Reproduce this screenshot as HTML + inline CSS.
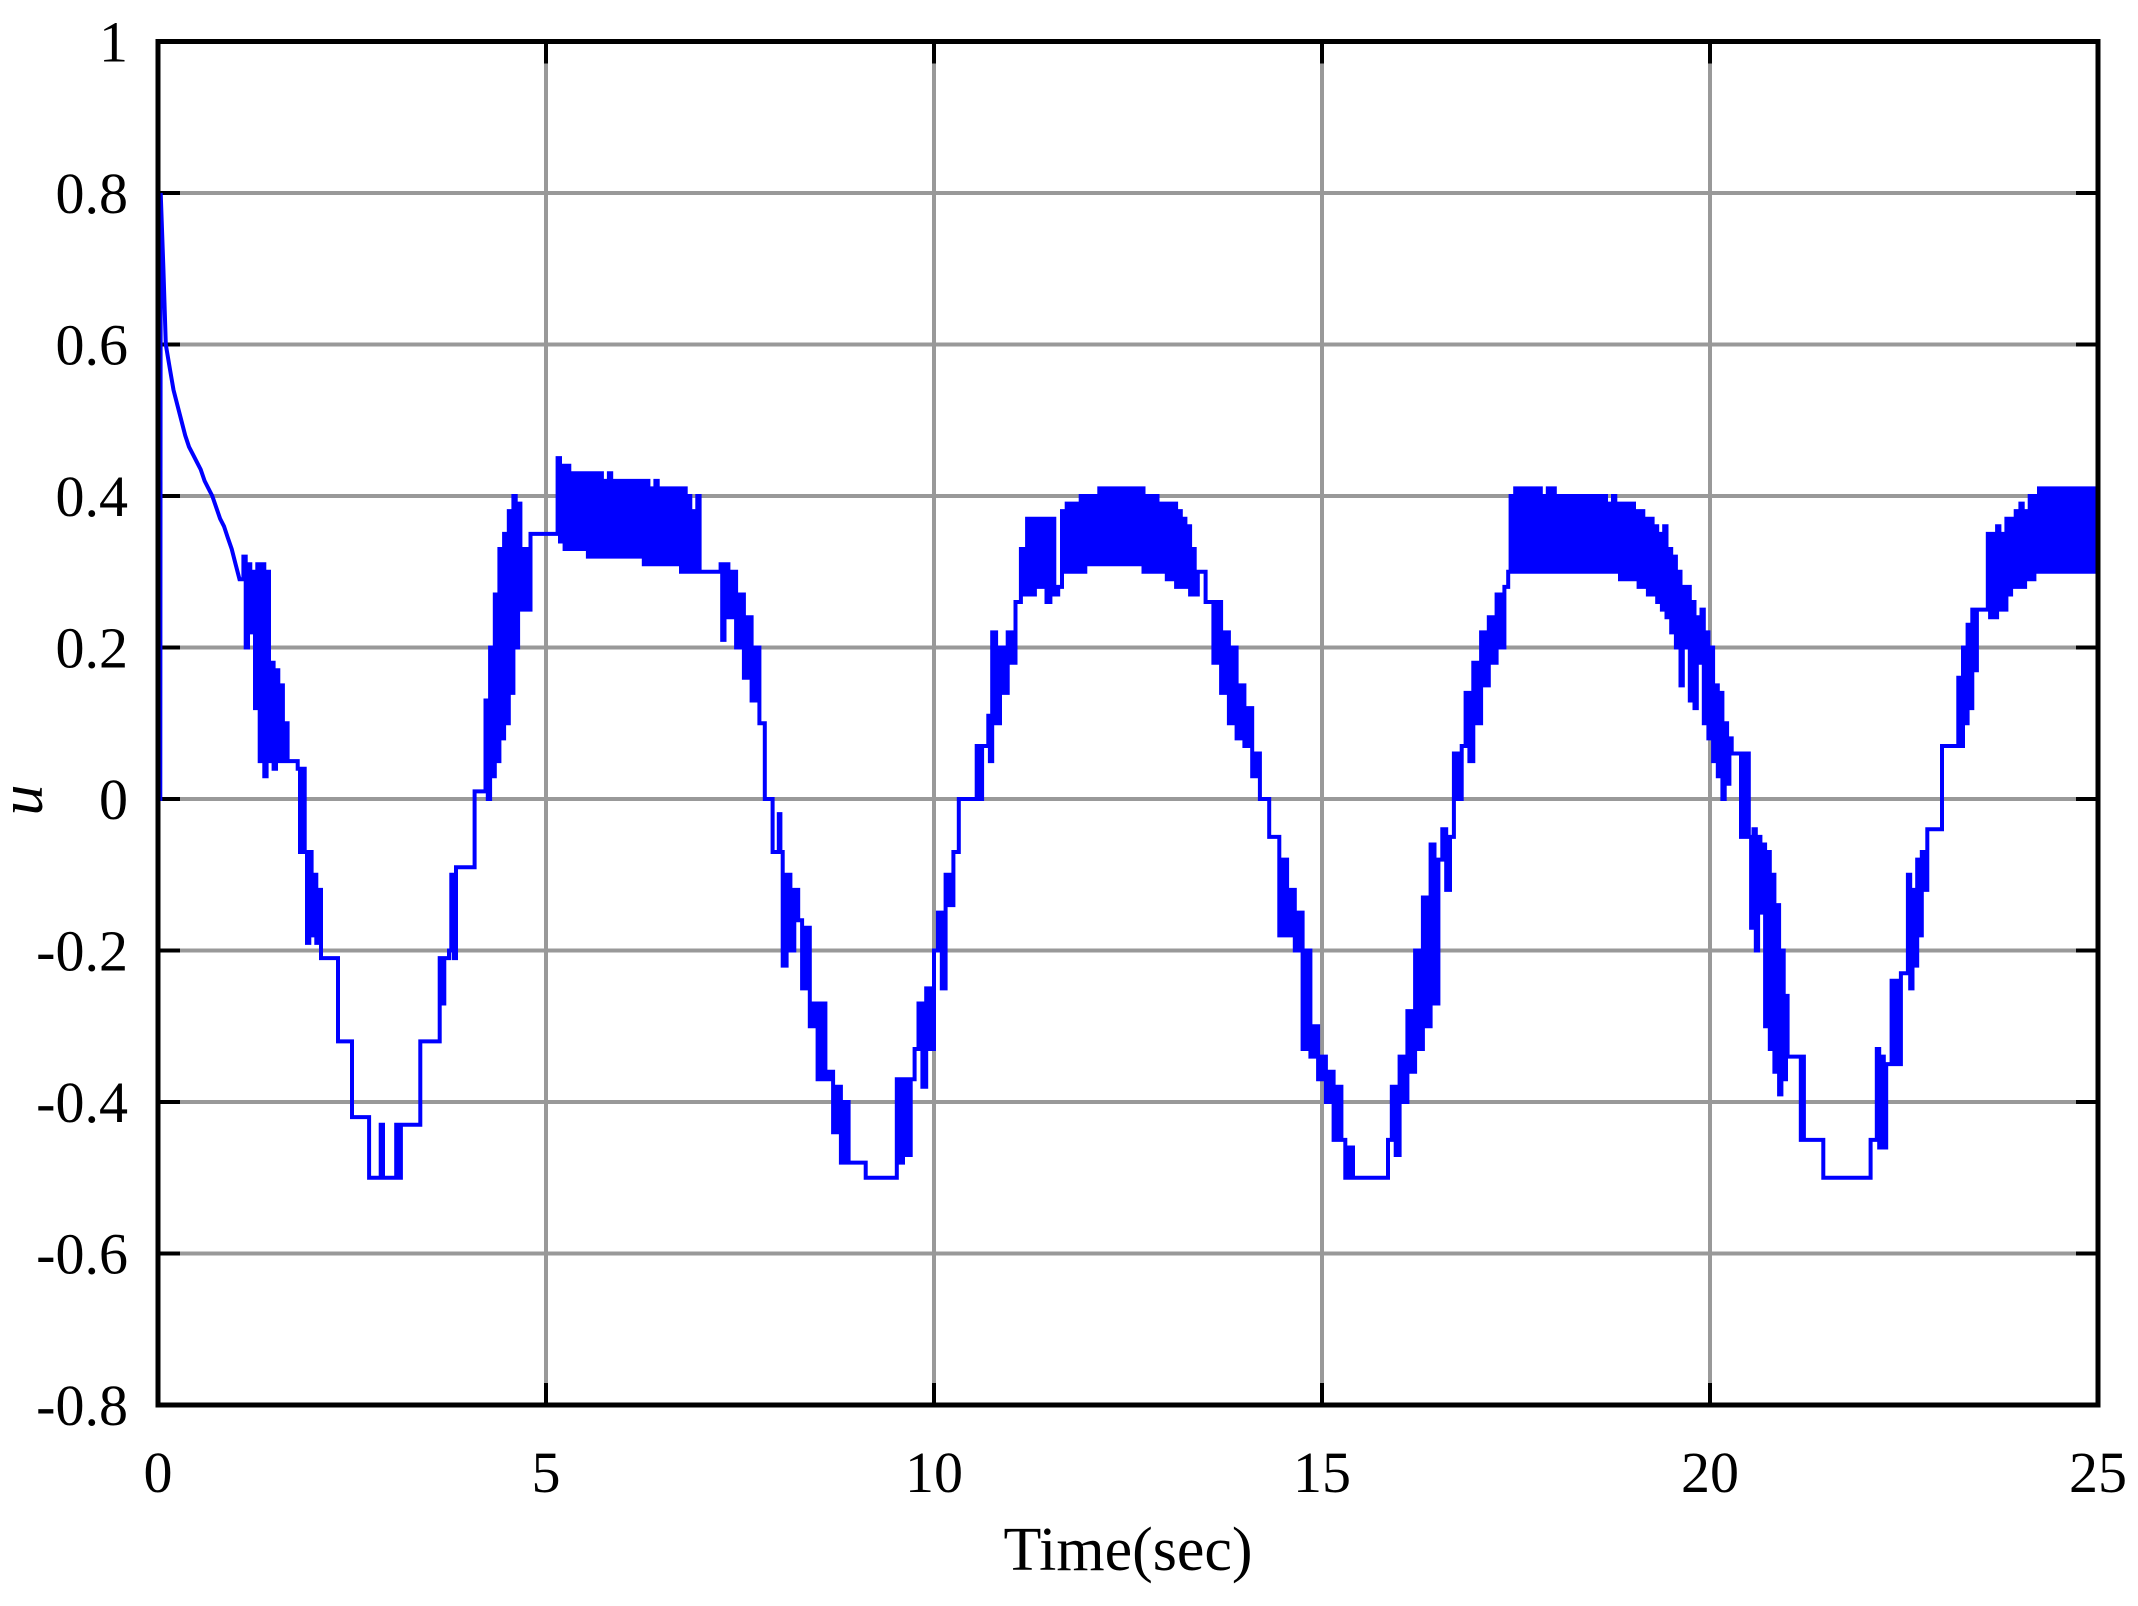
<!DOCTYPE html>
<html><head><meta charset="utf-8"><style>
html,body{margin:0;padding:0;background:#fff;}
svg{display:block;}
text{font-family:"Liberation Serif",serif;fill:#000;}
</style></head><body>
<svg id="chart" width="2138" height="1606" viewBox="0 0 2138 1606" xmlns="http://www.w3.org/2000/svg">
<g id="grid"></g>
<g id="series"></g>
<rect x="158" y="41.5" width="1940" height="1363.5" fill="none" stroke="#000" stroke-width="5"/>
<g id="xticks"></g>
<g id="yticks"></g>
<text x="1128" y="1570" font-size="62" text-anchor="middle">Time(sec)</text>
<text x="0" y="0" font-size="62" font-style="italic" text-anchor="middle" transform="translate(42,800) rotate(-90)">u</text>
</svg>
<script>
const xTickLabels=["0","5","10","15","20","25"];
const xTickValues=[0,5,10,15,20,25];
const yTickLabels=["1","0.8","0.6","0.4","0.2","0","-0.2","-0.4","-0.6","-0.8"];
const yTickValues=[1,0.8,0.6,0.4,0.2,0,-0.2,-0.4,-0.6,-0.8];
const samples=[
[0,0],[0.03,0],[0.035,0.8],[0.07,0.7],[0.1,0.6],[0.15,0.57],[0.2,0.54],[0.25,0.52],[0.3,0.5],[0.35,0.48],[0.4,0.465],[0.45,0.455],[0.5,0.445],[0.55,0.435],[0.6,0.42],[0.65,0.41],[0.7,0.4],[0.75,0.385],[0.8,0.37],[0.85,0.36],[0.9,0.345],[0.95,0.33],[1.0,0.31],[1.05,0.29],
[1.1,0.32],[1.13,0.2],[1.16,0.31],[1.19,0.22],[1.22,0.3],[1.25,0.12],[1.28,0.31],[1.31,0.05],[1.34,0.31],[1.37,0.03],[1.4,0.3],[1.43,0.05],[1.46,0.18],[1.49,0.04],[1.52,0.17],[1.55,0.05],[1.58,0.15],[1.61,0.05],[1.64,0.1],[1.67,0.05],[1.8,0.04],[1.83,-0.07],[1.86,0.04],[1.89,-0.07],[1.92,-0.19],[1.95,-0.07],[1.98,-0.18],[2.01,-0.1],[2.04,-0.19],[2.07,-0.12],[2.1,-0.21],[2.3,-0.21],[2.32,-0.32],[2.45,-0.32],[2.5,-0.42],[2.7,-0.42],[2.72,-0.5],[2.85,-0.5],[2.87,-0.43],[2.9,-0.5],[3.05,-0.5],[3.07,-0.43],[3.1,-0.5],[3.13,-0.43],[3.35,-0.43],[3.38,-0.32],[3.6,-0.32],[3.63,-0.21],[3.66,-0.27],[3.69,-0.21],[3.75,-0.2],[3.78,-0.1],[3.81,-0.21],[3.84,-0.09],[4.05,-0.09],[4.08,0.01],[4.2,0.01],[4.22,0.13],[4.25,0.0],[4.28,0.2],[4.31,0.03],[4.34,0.27],[4.37,0.05],[4.4,0.33],[4.43,0.08],[4.46,0.35],[4.49,0.1],[4.52,0.38],[4.55,0.14],[4.58,0.4],[4.61,0.2],[4.64,0.39],[4.67,0.25],[4.7,0.33],[4.75,0.25],[4.8,0.35],[5.1,0.35],
[5.15,0.45],[5.18,0.34],[5.21,0.44],[5.24,0.33],[5.27,0.44],[5.3,0.33],[5.33,0.43],[5.36,0.33],[5.39,0.43],[5.42,0.33],[5.45,0.43],[5.48,0.33],[5.51,0.43],[5.54,0.32],[5.57,0.43],[5.6,0.32],[5.63,0.43],[5.66,0.32],[5.69,0.43],[5.72,0.32],[5.75,0.42],[5.78,0.32],[5.81,0.43],[5.84,0.32],[5.87,0.42],[5.9,0.32],[5.93,0.42],[5.96,0.32],[5.99,0.42],[6.02,0.32],[6.05,0.42],[6.08,0.32],[6.11,0.42],[6.14,0.32],[6.17,0.42],[6.2,0.32],[6.23,0.42],[6.26,0.31],[6.29,0.42],[6.32,0.31],[6.35,0.41],[6.38,0.31],[6.41,0.42],[6.44,0.31],[6.47,0.41],[6.5,0.31],[6.53,0.41],[6.56,0.31],[6.59,0.41],[6.62,0.31],[6.65,0.41],[6.68,0.31],[6.71,0.41],[6.74,0.3],[6.77,0.41],[6.8,0.3],[6.83,0.4],[6.86,0.3],[6.89,0.38],[6.92,0.3],[6.95,0.4],[6.98,0.3],
[7.25,0.31],[7.27,0.21],[7.3,0.31],[7.35,0.24],[7.4,0.3],[7.45,0.2],[7.5,0.27],[7.55,0.16],[7.6,0.24],[7.65,0.13],[7.7,0.2],[7.75,0.1],[7.8,0.1],[7.82,0.0],[7.9,0.0],[7.92,-0.07],[8.0,-0.02],[8.02,-0.07],[8.05,-0.22],[8.1,-0.1],[8.15,-0.2],[8.2,-0.12],[8.25,-0.16],[8.3,-0.25],[8.35,-0.17],[8.4,-0.3],[8.45,-0.27],[8.5,-0.37],[8.55,-0.27],[8.6,-0.37],[8.65,-0.36],[8.7,-0.44],[8.75,-0.38],[8.8,-0.48],[8.85,-0.4],[8.9,-0.48],[9.1,-0.48],[9.12,-0.5],[9.5,-0.5],[9.52,-0.37],[9.55,-0.48],[9.6,-0.37],[9.65,-0.47],[9.7,-0.37],[9.75,-0.33],[9.8,-0.27],[9.85,-0.38],[9.9,-0.25],[9.95,-0.33],[10.0,-0.2],[10.05,-0.15],[10.1,-0.25],[10.15,-0.1],[10.2,-0.14],[10.25,-0.07],[10.3,-0.07],[10.32,0.0],[10.5,0.0],[10.55,0.07],[10.6,0.0],[10.62,0.07],[10.7,0.11],[10.72,0.05],[10.75,0.22],[10.8,0.1],[10.85,0.2],[10.9,0.14],[10.95,0.22],[11.0,0.18],[11.05,0.26],[11.1,0.26],[11.12,0.33],[11.15,0.27],[11.2,0.37],[11.25,0.27],[11.3,0.37],[11.35,0.28],[11.4,0.37],[11.45,0.26],[11.5,0.37],[11.55,0.27],[11.6,0.28],[11.65,0.38],
[11.68,0.3],[11.71,0.39],[11.74,0.3],[11.77,0.39],[11.8,0.3],[11.83,0.39],[11.86,0.3],[11.89,0.4],[11.92,0.3],[11.95,0.4],[11.98,0.31],[12.01,0.4],[12.04,0.31],[12.07,0.4],[12.1,0.31],[12.13,0.41],[12.16,0.31],[12.19,0.41],[12.22,0.31],[12.25,0.41],[12.28,0.31],[12.31,0.41],[12.34,0.31],[12.37,0.41],[12.4,0.31],[12.43,0.41],[12.46,0.31],[12.49,0.41],[12.52,0.31],[12.55,0.41],[12.58,0.31],[12.61,0.41],[12.64,0.31],[12.67,0.41],[12.7,0.3],[12.73,0.4],[12.76,0.3],[12.79,0.4],[12.82,0.3],[12.85,0.4],[12.88,0.3],[12.91,0.39],[12.94,0.3],[12.97,0.39],[13.0,0.29],[13.03,0.39],[13.06,0.29],[13.09,0.39],[13.12,0.28],[13.15,0.38],[13.18,0.28],[13.21,0.37],[13.24,0.28],[13.27,0.36],[13.3,0.27],[13.33,0.33],[13.36,0.27],[13.4,0.3],
[13.5,0.26],[13.55,0.26],[13.6,0.18],[13.65,0.26],[13.7,0.14],[13.75,0.22],[13.8,0.1],[13.85,0.2],[13.9,0.08],[13.95,0.15],[14.0,0.07],[14.05,0.12],[14.1,0.03],[14.15,0.06],[14.2,0.0],[14.3,0.0],[14.32,-0.05],[14.4,-0.05],[14.45,-0.18],[14.5,-0.08],[14.55,-0.18],[14.6,-0.12],[14.65,-0.2],[14.7,-0.15],[14.75,-0.33],[14.8,-0.2],[14.85,-0.34],[14.9,-0.3],[14.95,-0.37],[15.0,-0.34],[15.05,-0.4],[15.1,-0.36],[15.15,-0.45],[15.2,-0.38],[15.25,-0.45],[15.3,-0.5],[15.35,-0.46],[15.4,-0.5],[15.8,-0.5],[15.85,-0.45],[15.9,-0.38],[15.95,-0.47],[16.0,-0.34],[16.05,-0.4],[16.1,-0.28],[16.15,-0.36],[16.2,-0.2],[16.25,-0.33],[16.3,-0.13],[16.35,-0.3],[16.4,-0.06],[16.45,-0.27],[16.5,-0.08],[16.55,-0.04],[16.6,-0.12],[16.65,-0.05],[16.7,0.06],[16.75,0.0],[16.8,0.07],[16.85,0.14],[16.9,0.05],[16.95,0.18],[17.0,0.1],[17.05,0.22],[17.1,0.15],[17.15,0.24],[17.2,0.18],[17.25,0.27],[17.3,0.2],[17.35,0.28],[17.4,0.3],
[17.43,0.4],[17.46,0.3],[17.49,0.41],[17.52,0.3],[17.55,0.41],[17.58,0.3],[17.61,0.41],[17.64,0.3],[17.67,0.41],[17.7,0.3],[17.73,0.41],[17.76,0.3],[17.79,0.41],[17.82,0.3],[17.85,0.4],[17.88,0.3],[17.91,0.41],[17.94,0.3],[17.97,0.41],[18.0,0.3],[18.03,0.4],[18.06,0.3],[18.09,0.4],[18.12,0.3],[18.15,0.4],[18.18,0.3],[18.21,0.4],[18.24,0.3],[18.27,0.4],[18.3,0.3],[18.33,0.4],[18.36,0.3],[18.39,0.4],[18.42,0.3],[18.45,0.4],[18.48,0.3],[18.51,0.4],[18.54,0.3],[18.57,0.4],[18.6,0.3],[18.63,0.4],[18.66,0.3],[18.69,0.39],[18.72,0.3],[18.75,0.4],[18.78,0.3],[18.81,0.39],[18.84,0.29],[18.87,0.39],[18.9,0.29],[18.93,0.39],[18.96,0.29],[18.99,0.39],[19.02,0.29],[19.05,0.38],[19.08,0.28],[19.11,0.38],[19.14,0.28],[19.17,0.37],[19.2,0.27],[19.23,0.37],[19.26,0.27],[19.29,0.36],[19.32,0.26],[19.35,0.35],[19.38,0.25],[19.41,0.36],[19.44,0.24],[19.47,0.33],[19.5,0.22],[19.53,0.32],[19.56,0.2],[19.59,0.3],[19.62,0.15],[19.65,0.28],[19.68,0.2],
[19.71,0.28],[19.74,0.13],[19.77,0.26],[19.8,0.12],[19.83,0.24],[19.86,0.18],[19.89,0.25],[19.92,0.1],[19.95,0.22],[19.98,0.08],[20.01,0.2],[20.04,0.05],[20.07,0.15],[20.1,0.03],[20.13,0.14],[20.16,0.0],[20.19,0.1],[20.22,0.02],[20.25,0.08],[20.28,0.06],[20.4,-0.05],[20.45,0.06],[20.5,-0.05],[20.53,-0.17],[20.56,-0.04],[20.59,-0.2],[20.62,-0.05],[20.65,-0.15],[20.68,-0.06],[20.71,-0.3],[20.74,-0.07],[20.77,-0.33],[20.8,-0.1],[20.83,-0.36],[20.86,-0.14],[20.89,-0.39],[20.92,-0.2],[20.95,-0.37],[20.98,-0.26],[21.0,-0.34],[21.15,-0.34],[21.17,-0.45],[21.19,-0.34],[21.21,-0.45],[21.44,-0.45],[21.46,-0.5],[22.05,-0.5],[22.07,-0.45],[22.13,-0.45],[22.15,-0.33],[22.18,-0.46],[22.21,-0.34],[22.24,-0.46],[22.27,-0.35],[22.32,-0.35],[22.34,-0.24],[22.37,-0.35],[22.4,-0.24],[22.43,-0.35],[22.46,-0.23],[22.52,-0.23],[22.55,-0.1],[22.58,-0.25],[22.61,-0.12],[22.64,-0.22],[22.67,-0.08],[22.7,-0.18],[22.73,-0.07],[22.76,-0.12],[22.8,-0.04],[22.97,-0.04],[22.99,0.07],[23.17,0.07],[23.2,0.16],[23.23,0.07],[23.26,0.2],[23.29,0.1],[23.32,0.23],[23.35,0.12],[23.38,0.25],[23.41,0.17],[23.44,0.25],[23.55,0.25],[23.58,0.35],[23.61,0.24],[23.64,0.35],[23.67,0.24],[23.7,0.36],[23.73,0.25],[23.76,0.35],[23.79,0.25],[23.82,0.37],[23.85,0.27],[23.88,0.37],[23.91,0.28],[23.94,0.38],[23.97,0.28],[24.0,0.39],[24.03,0.28],[24.06,0.38],[24.09,0.29],[24.12,0.4],[24.15,0.29],[24.18,0.4],[24.21,0.3],[24.24,0.41],[24.27,0.3],[24.3,0.41],[24.33,0.3],[24.36,0.41],[24.39,0.3],[24.42,0.41],[24.45,0.3],[24.48,0.41],[24.51,0.3],[24.54,0.41],[24.57,0.3],[24.6,0.41],[24.63,0.3],[24.66,0.41],[24.69,0.3],[24.72,0.41],[24.75,0.3],[24.78,0.41],[24.81,0.3],[24.84,0.41],[24.87,0.3],[24.9,0.41],[24.93,0.3],[24.96,0.41],[25.0,0.3]
];
const NS="http://www.w3.org/2000/svg";
const L=158,R=2098,T=41.5,B=1405;
function xs(t){return L+(t-0)/(25-0)*(R-L);}
function ys(v){return T+(1-v)/(1-(-0.8))*(B-T);}
const grid=document.getElementById('grid'),xt=document.getElementById('xticks'),yt=document.getElementById('yticks');
function mk(tag,attrs,parent){const e=document.createElementNS(NS,tag);for(const k in attrs)e.setAttribute(k,attrs[k]);parent.appendChild(e);return e;}
xTickValues.forEach((v,i)=>{
 const x=xs(v);
 if(i>0&&i<xTickValues.length-1){const g=mk('line',{x1:x,x2:x,y1:T,y2:B,stroke:'#999','stroke-width':4},grid);
 
 
 const a=mk('line',{x1:x,x2:x,y1:T,y2:T+22,stroke:'#000','stroke-width':4},grid);
 
 
 const b=mk('line',{x1:x,x2:x,y1:B-22,y2:B,stroke:'#000','stroke-width':4},grid);
 
 }
 const t=mk('text',{x:x,y:1492,'font-size':58,'text-anchor':'middle'},xt);t.textContent=xTickLabels[i];
 
 
});
yTickValues.forEach((v,i)=>{
 const y=ys(v);
 if(i>0&&i<yTickValues.length-1){const g=mk('line',{x1:L,x2:R,y1:y,y2:y,stroke:'#999','stroke-width':4},grid);
 
 
 const a=mk('line',{x1:L,x2:L+22,y1:y,y2:y,stroke:'#000','stroke-width':4},grid);
 
 
 const b=mk('line',{x1:R-22,x2:R,y1:y,y2:y,stroke:'#000','stroke-width':4},grid);
 
 }
 const t=mk('text',{x:128,y:y+20,'font-size':58,'text-anchor':'end'},yt);t.textContent=yTickLabels[i];
 
 
});
let d='M'+xs(samples[0][0]).toFixed(1)+','+ys(samples[0][1]).toFixed(1);
for(let i=1;i<samples.length;i++){
 if(samples[i][0]<=1.05){d+='L'+xs(samples[i][0]).toFixed(1)+','+ys(samples[i][1]).toFixed(1);}
 else{d+='H'+xs(samples[i][0]).toFixed(1)+'V'+ys(samples[i][1]).toFixed(1);}
}
const p=mk('path',{d:d,fill:'none',stroke:'#0000ff','stroke-width':4,'stroke-linejoin':'miter'},document.getElementById('series'));


</script>
</body></html>
